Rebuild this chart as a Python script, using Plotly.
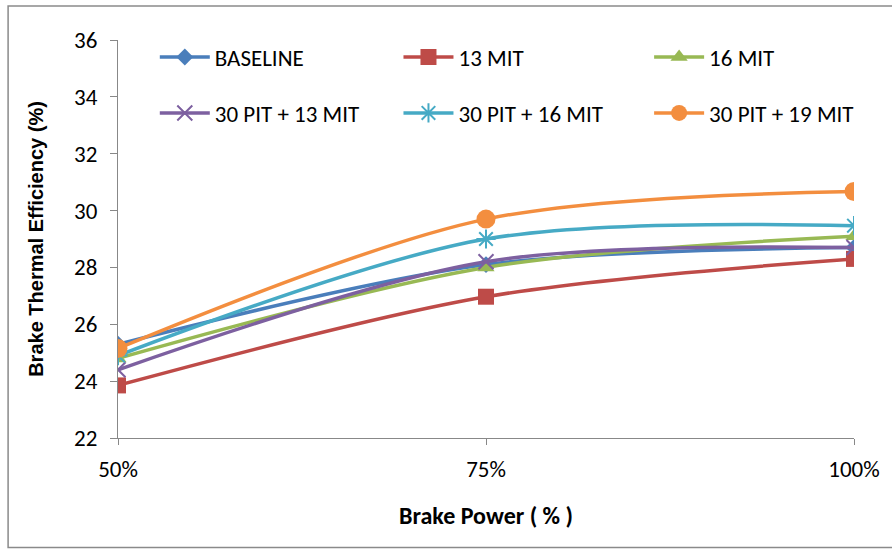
import plotly.graph_objects as go

categories = [50, 75, 100]
tick_labels = ["50%", "75%", "100%"]
series_names = ["BASELINE", "13 MIT", "16 MIT", "30 PIT + 13 MIT", "30 PIT + 16 MIT", "30 PIT + 19 MIT"]
baseline = [25.3, 28.1, 28.7]
mit13 = [23.85, 26.97, 28.3]
mit16 = [24.8, 28.0, 29.1]
pit30_mit13 = [24.4, 28.2, 28.7]
pit30_mit16 = [24.9, 29.0, 29.47]
pit30_mit19 = [25.15, 29.7, 30.67]
y_ticks = [22, 24, 26, 28, 30, 32, 34, 36]

values = [baseline, mit13, mit16, pit30_mit13, pit30_mit16, pit30_mit19]
colors = ["#4A7EBB", "#BE4B48", "#98B954", "#7D60A0", "#46AAC5", "#F38E3F"]
symbols = ["diamond", "square", "triangle-up", "x-thin-open", "asterisk-open", "circle"]
sizes = [13, 16, 15, 15, 16, 19]

FONT = "Carlito, Liberation Sans, sans-serif"
FONT_Y = "Liberation Sans, Arial, sans-serif"

W, H = 892, 549
L, R, T, B = 118, 34, 40, 111
pw, ph = W - L - R, H - T - B

def px(x):
    return (x - L) / pw

def py(y):
    return (H - B - y) / ph

legend_ids = ["legend", "legend2", "legend3", "legend4", "legend5", "legend6"]
legend_pos = [(155, 57), (400, 57), (652, 57), (155, 113), (400, 113), (652, 113)]

fig = go.Figure()
for i, (name, vals) in enumerate(zip(series_names, values)):
    marker = dict(symbol=symbols[i], size=sizes[i], color=colors[i])
    if symbols[i].endswith("-open"):
        marker["line"] = dict(color=colors[i], width=2)
    fig.add_trace(go.Scatter(
        x=categories, y=vals, name=name, mode="lines+markers",
        line=dict(color=colors[i], width=3.5, shape="spline", smoothing=0.9),
        marker=marker,
        legend=legend_ids[i], showlegend=True,
    ))

legends = {}
for lid, (lx, ly) in zip(legend_ids, legend_pos):
    legends[lid] = dict(
        x=px(lx), y=py(ly), xanchor="left", yanchor="middle",
        orientation="h", itemwidth=50, visible=True,
        font=dict(family=FONT, size=23, color="#000000"),
        bgcolor="rgba(0,0,0,0)",
    )

fig.update_layout(
    width=W, height=H,
    showlegend=True,
    margin=dict(l=L, r=R, t=T, b=B),
    paper_bgcolor="white", plot_bgcolor="white",
    font=dict(family=FONT, size=22, color="#000000"),
    xaxis=dict(
        range=[50, 100], tickmode="array", tickvals=categories, ticktext=tick_labels,
        showline=True, linecolor="#888888", linewidth=1,
        ticks="outside", ticklen=6, tickcolor="#888888",
        showgrid=False, zeroline=False,
        tickfont=dict(family=FONT, size=23),
        ticklabelstandoff=4,
        title=dict(text="<b>Brake Power ( % )</b>", font=dict(family=FONT, size=24), standoff=25),
    ),
    yaxis=dict(
        range=[22, 36], tickmode="array", tickvals=y_ticks,
        showline=True, linecolor="#888888", linewidth=1,
        ticks="outside", ticklen=7, tickcolor="#888888",
        showgrid=False, zeroline=False,
        tickfont=dict(family=FONT, size=23),
        ticklabelstandoff=8,
        title=dict(text="<b>Brake Thermal Efficiency (%)</b>", font=dict(family=FONT_Y, size=20), standoff=25),
    ),
    shapes=[dict(type="rect", xref="paper", yref="paper",
                 x0=px(7.5), x1=px(900), y0=py(547.5), y1=py(6),
                 line=dict(color="#8a8a8a", width=1.5), fillcolor="rgba(0,0,0,0)", layer="below")],
    **legends,
)

fig.write_html("out.html")
